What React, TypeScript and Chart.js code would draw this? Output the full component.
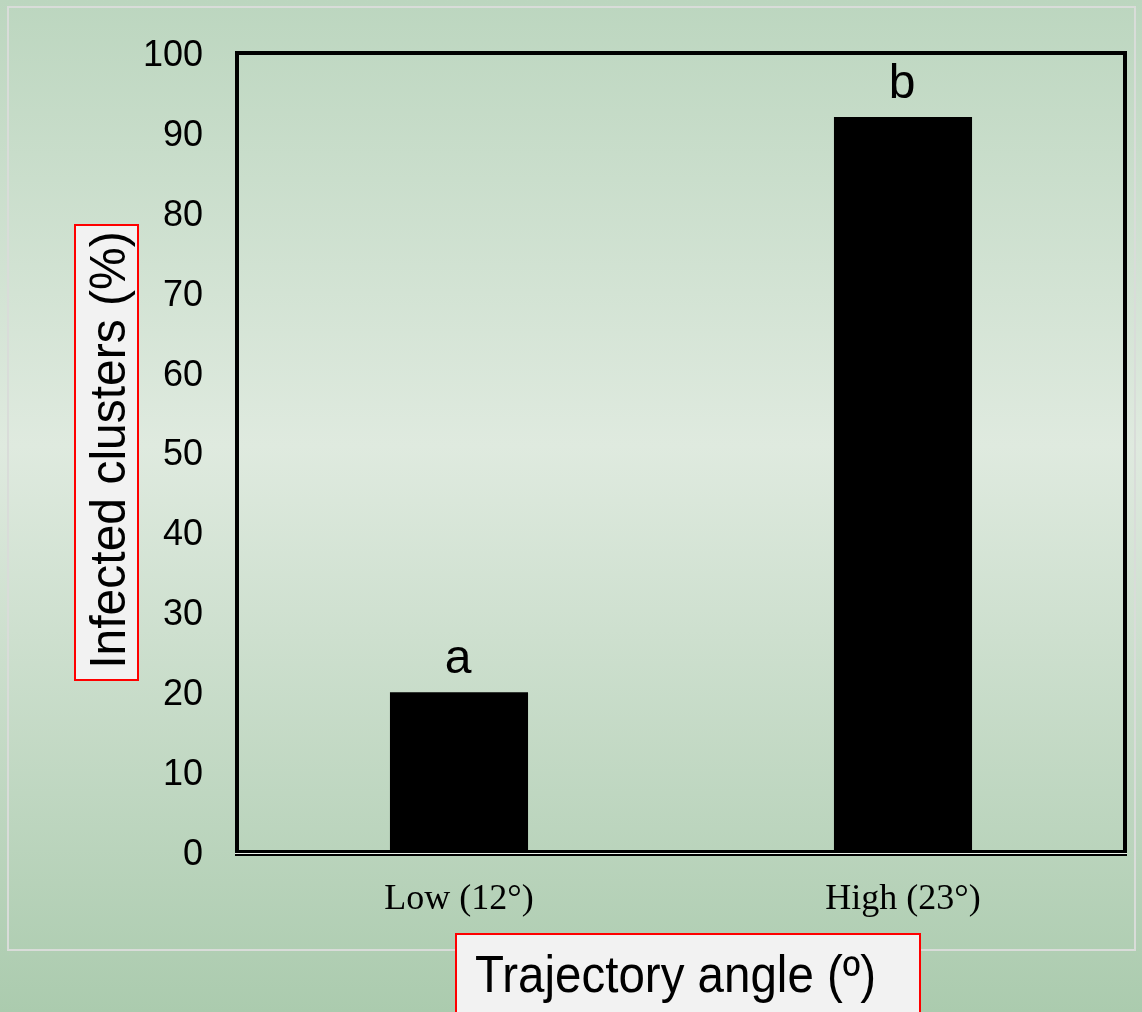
import React, { useEffect, useRef } from "react";
import { Chart, registerables } from "chart.js";

Chart.register(...registerables);

const categories = ["Low (12°)", "High (23°)"];
const infectedValues = [20, 92];
const significanceLetters = ["a", "b"];
const yTitle = "Infected clusters (%)";
const xTitle = "Trajectory angle (º)";

const W = 1142;
const H = 1012;

const decorPlugin = {
  id: "decor",
  beforeDraw(chart: any) {
    const ctx = chart.ctx as CanvasRenderingContext2D;
    ctx.save();
    const g = ctx.createLinearGradient(0, 0, 0, H);
    g.addColorStop(0, "#bcd6bf");
    g.addColorStop(0.44, "#dfeadf");
    g.addColorStop(1, "#abcbae");
    ctx.fillStyle = g;
    ctx.fillRect(0, 0, W, H);
    ctx.strokeStyle = "#d9dcd9";
    ctx.lineWidth = 2;
    ctx.strokeRect(8, 7, 1127, 943);
    ctx.restore();
  },
  afterDatasetsDraw(chart: any) {
    const ctx = chart.ctx as CanvasRenderingContext2D;
    const a = chart.chartArea;
    ctx.save();
    // frame
    ctx.strokeStyle = "#000";
    ctx.lineWidth = 4;
    ctx.strokeRect(a.left, a.top, a.right - a.left, a.bottom - a.top);
    ctx.strokeStyle = "#e8efe8";
    ctx.lineWidth = 1;
    ctx.beginPath();
    ctx.moveTo(a.left - 2, a.bottom + 1.5);
    ctx.lineTo(a.right + 2, a.bottom + 1.5);
    ctx.stroke();
    ctx.strokeStyle = "#000";
    ctx.lineWidth = 2;
    ctx.beginPath();
    ctx.moveTo(a.left - 2, a.bottom + 3);
    ctx.lineTo(a.right + 2, a.bottom + 3);
    ctx.stroke();
    // significance letters
    const meta = chart.getDatasetMeta(0);
    ctx.fillStyle = "#000";
    ctx.font = '48px "Liberation Sans", Arial, sans-serif';
    ctx.textAlign = "center";
    ctx.textBaseline = "alphabetic";
    meta.data.forEach((bar: any, i: number) => {
      ctx.fillText(significanceLetters[i], bar.x - 1, bar.y - 19);
    });
    ctx.restore();
  },
  afterDraw(chart: any) {
    const ctx = chart.ctx as CanvasRenderingContext2D;
    ctx.save();
    // y title box
    ctx.fillStyle = "#f2f2f2";
    ctx.fillRect(75, 225, 63, 455);
    ctx.strokeStyle = "#ff0000";
    ctx.lineWidth = 2;
    ctx.strokeRect(75, 225, 63, 455);
    ctx.fillStyle = "#000";
    ctx.font = '48px "Liberation Sans", Arial, sans-serif';
    ctx.textAlign = "center";
    ctx.textBaseline = "alphabetic";
    ctx.save();
    ctx.translate(125, 450);
    ctx.rotate(-Math.PI / 2);
    ctx.scale(1, 1.04);
    ctx.fillText(yTitle, 0, 0);
    ctx.restore();
    // x title box
    ctx.fillStyle = "#f2f2f2";
    ctx.fillRect(456, 934, 464, 90);
    ctx.strokeStyle = "#ff0000";
    ctx.strokeRect(456, 934, 464, 90);
    ctx.fillStyle = "#000";
    ctx.font = '47.5px "Liberation Sans", Arial, sans-serif';
    ctx.textAlign = "left";
    ctx.save();
    ctx.translate(475, 992);
    ctx.scale(1, 1.08);
    ctx.fillText(xTitle, 0, 0);
    ctx.restore();
    ctx.restore();
  },
};

export default function App() {
  const canvasRef = useRef<HTMLCanvasElement | null>(null);

  useEffect(() => {
    if (!canvasRef.current) return;
    const chart = new Chart(canvasRef.current, {
      type: "bar",
      data: {
        labels: categories,
        datasets: [
          {
            data: infectedValues,
            backgroundColor: "#000000",
            borderWidth: 0,
            barPercentage: 0.311,
            categoryPercentage: 1,
          },
        ],
      },
      options: {
        animation: false,
        responsive: false,
        devicePixelRatio: 1,
        layout: { padding: { top: 53, right: 17, left: 0, bottom: 0 } },
        plugins: {
          legend: { display: false },
          tooltip: { enabled: false },
          title: { display: false },
        },
        scales: {
          x: {
            grid: { display: false },
            border: { display: false },
            ticks: {
              color: "#000",
              padding: 18,
              font: { family: '"Liberation Serif", "Times New Roman", serif', size: 36 },
            },
            afterFit(scale: any) {
              scale.height = 160;
            },
          },
          y: {
            min: 0,
            max: 100,
            grid: { display: false },
            border: { display: false },
            ticks: {
              stepSize: 10,
              color: "#000",
              padding: 26,
              labelOffset: 3,
              font: { family: '"Liberation Sans", Arial, sans-serif', size: 36 },
            },
            afterFit(scale: any) {
              scale.width = 237;
            },
          },
        },
      },
      plugins: [decorPlugin],
    });
    return () => chart.destroy();
  }, []);

  return (
    <div style={{ position: "absolute", left: 0, top: 0, width: W, height: H }}>
      <canvas ref={canvasRef} width={W} height={H} style={{ display: "block", width: W, height: H }} />
    </div>
  );
}
